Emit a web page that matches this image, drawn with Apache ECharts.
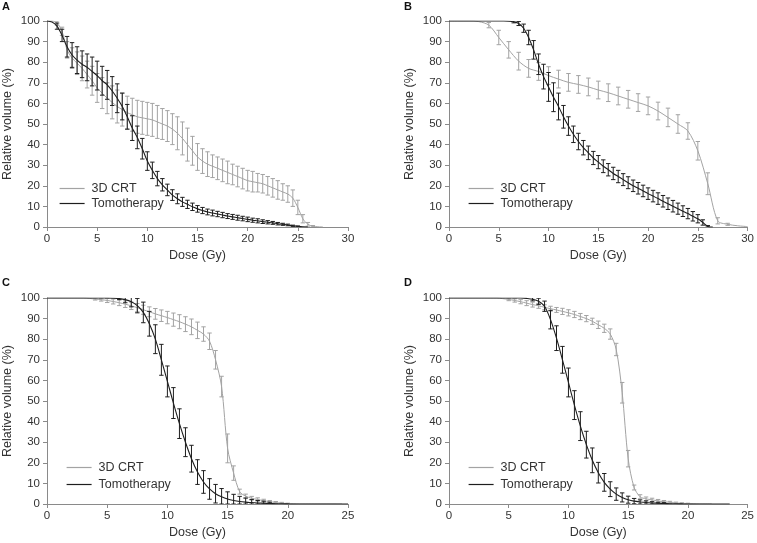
<!DOCTYPE html>
<html>
<head>
<meta charset="utf-8">
<script src="https://cdn.jsdelivr.net/npm/echarts@6/dist/echarts.min.js"></script>
<style>
html,body{margin:0;padding:0;background:#fff;}
#chart{width:757px;height:543px;}
</style>
</head>
<body>
<div id="chart"></div>
<script>
// ---------- Panel A ----------
const doseA = [0,0.5,1,1.5,2,2.5,3,3.5,4,4.5,5,5.5,6,6.5,7,7.5,8,8.5,9,9.5,10,10.5,11,11.5,12,12.5,13,13.5,14,14.5,15,15.5,16,16.5,17,17.5,18,18.5,19,19.5,20,20.5,21,21.5,22,22.5,23,23.5,24,24.5,25,25.5,26,26.5,27,27.5];
const crtA = [100,100,99,95,86,82,79.5,77,74,71,67.5,65,62.5,60.5,58.5,57,55.5,54.5,53.5,53,52.5,52,51,50,49,47.5,45.5,43,40,37,34,32,30.5,29.5,28.5,27.5,26.5,25.5,24.5,23.5,22.5,22,21.5,21,20,19,18,17,16,14,9.5,4,1.3,0.4,0.1,0];
const crtErrA = [0,0,1,2,4,5,5.5,6,6.5,7,7,7.5,7.5,8,8,8,8,8,8,8,8,8,8,7.5,7.5,7.5,8,8,8,7,6.5,6,6,5.5,5.5,5.5,5.5,5,5,5,5,5,4.5,4.5,4.5,4.5,4.5,4,4,4,3.5,2,0.9,0.3,0,0];
const tomoA = [100,99.5,97.5,93,87.5,83.5,81,79,77.5,75.5,73.5,71,69,66,62.5,58.5,53.5,48,43.5,38,32,27.5,23.5,20.5,18,15.5,13.7,12.2,11,9.8,8.8,8,7.3,6.8,6.3,5.8,5.3,4.9,4.5,4.1,3.7,3.3,3,2.6,2.3,2,1.6,1.3,1,0.6,0.3,0.1,0,null,null,null];
const tomoErrA = [0,0,1.5,3,5,6,6.5,6.5,6.5,7,7,7,7,7,7,6.5,6,6,5.5,5,4.5,4,3.5,3,2.8,2.6,2.4,2.2,2,1.8,1.6,1.5,1.4,1.4,1.3,1.3,1.2,1.2,1.2,1.1,1.1,1,1,0.9,0.8,0.7,0.6,0.5,0.4,0.3,0.2,0,0,0,0,0];

// ---------- Panel B ----------
const doseB_crt = [0,1,2,3,4,5,6,7,8,9,10,11,12,13,14,15,16,17,18,19,20,21,22,23,24,25,26,27,28,29,30];
const crtB = [100,100,100,99.7,98,92,86,80.5,77,75.5,73.5,71.8,70.2,69.2,68,66.5,65.2,63.6,62,60.4,58.8,56.3,53.2,50,46.6,37,21,3,1.3,0.6,0.2];
const crtErrB = [0,0,0,0,1.3,3.5,4,4.3,4.3,4.3,4.3,4.3,4.3,4.3,4.3,4.3,4.3,4.3,4.3,4.3,4.3,4.3,4.5,4.5,4,4.5,5.3,1.5,0.5,0,0];
const doseB_tomo = [0,0.5,1,1.5,2,2.5,3,3.5,4,4.5,5,5.5,6,6.5,7,7.5,8,8.5,9,9.5,10,10.5,11,11.5,12,12.5,13,13.5,14,14.5,15,15.5,16,16.5,17,17.5,18,18.5,19,19.5,20,20.5,21,21.5,22,22.5,23,23.5,24,24.5,25,25.5,26,26.5];
const tomoB = [100,100,100,100,100,100,100,100,100,100,100,100,99.9,99.6,98.8,96.5,92,86,79,73,68,63,58.5,53.5,49,45,41.5,38.5,36,33.5,31.5,29.5,27.8,26,24.5,23,21.5,20,18.8,17.5,16.2,15,13.8,12.5,11.3,10.1,8.9,7.7,6.5,5.2,4,2.2,0.3,0];
const tomoErrB = [0,0,0,0,0,0,0,0,0,0,0,0,0,0.5,1,2,3.5,4.5,5,6,7,7,6.5,5.5,4.5,4,4,3.5,3.3,3.2,3.2,3.1,3,3,3,2.9,2.9,2.8,2.8,2.8,2.8,2.8,2.8,2.8,2.8,2.8,2.7,2.6,2.5,2.3,2,1.3,0.4,0];

// ---------- Panel C ----------
const doseC = [0,0.5,1,1.5,2,2.5,3,3.5,4,4.5,5,5.5,6,6.5,7,7.5,8,8.5,9,9.5,10,10.5,11,11.5,12,12.5,13,13.5,14,14.5,15,15.5,16,16.5,17,17.5,18,18.5,19,19.5,20,20.5,21,21.5,22,22.5,23,23.5,24,24.5,25];
const crtC = [100,100,100,100,100,100,100,99.8,99.5,99.2,98.8,98.3,97.7,97,96.2,95.3,94.3,93.3,92.3,91.4,90.5,89.5,88.5,87.3,86,84.3,82.5,79,70,57,27,15,6,3.8,2.8,2.2,1.6,1.1,0.7,0.4,0.2,0.1,0,0,0,0,0,0,0,0,null];
const crtErrC = [0,0,0,0,0,0,0,0,0.5,0.7,1,1.2,1.4,1.6,1.8,2,2.2,2.4,2.6,2.8,3,3.2,3.4,3.6,3.8,4,3.5,4,4.5,5,7,3.5,1.2,1,0.9,0.8,0.7,0.6,0.5,0.4,0.2,0,0,0,0,0,0,0,0,0,0];
const tomoC = [100,100,100,100,100,100,100,100,100,100,100,99.9,99.7,99.2,98.2,96.3,93,87.5,80,70,59.5,49,39,30,22,15.5,10.7,7.3,5,3.5,2.4,1.7,1.2,0.9,0.7,0.5,0.35,0.25,0.15,0.1,0.05,0,0,0,0,0,0,0,0,0,0];
const tomoErrC = [0,0,0,0,0,0,0,0,0,0,0,0,0.5,1.5,2.5,3.5,5,6,7,7.5,7.5,7.5,7.2,7,6.5,6,5.5,5,4.5,4,3.5,3,2.5,2,1.5,1.2,1,0.6,0,0,0,0,0,0,0,0,0,0,0,0,0];

// ---------- Panel D ----------
const doseD = [0,0.5,1,1.5,2,2.5,3,3.5,4,4.5,5,5.5,6,6.5,7,7.5,8,8.5,9,9.5,10,10.5,11,11.5,12,12.5,13,13.5,14,14.5,15,15.5,16,16.5,17,17.5,18,18.5,19,19.5,20,20.5,21,21.5,22,22.5,23,23.5,24];
const crtD = [100,100,100,100,100,100,100,100,100,99.7,99.3,98.8,98.2,97.5,96.8,96.2,95.5,94.8,94.2,93.5,92.8,92,91,90,88.7,87,85.3,82.5,75,54,22,8,3.5,2.5,2,1.5,1.1,0.8,0.5,0.3,0.2,0.1,0,0,0,null,null,null,null];
const crtErrD = [0,0,0,0,0,0,0,0,0,0,0.6,0.8,1,1.2,1.2,1.2,1.2,1.2,1.2,1.5,1.5,1.5,1.5,1.5,1.5,1.8,2,2.5,3,5,4,1.2,1,0.9,0.8,0.7,0.6,0.5,0.4,0.3,0.2,0,0,0,0,0,0,0,0];
const tomoD = [100,100,100,100,100,100,100,100,100,100,100,100,100,99.8,99.4,98.4,96,89.5,80.5,70,59,48,37.8,28.8,21.2,15.2,10.5,7.2,4.8,3.2,2.1,1.4,1,0.7,0.5,0.35,0.25,0.15,0.1,0.05,0,0,0,0,0,0,0,0,null];
const tomoErrD = [0,0,0,0,0,0,0,0,0,0,0,0,0,0,0.8,1.5,2.5,4.5,6,6.5,7,7,7,6.5,6,5,4.3,3.6,3,2.2,1.7,1.3,1,0.8,0.6,0.5,0.4,0,0,0,0,0,0,0,0,0,0,0,0];

const xMaxes = [30, 30, 25, 25];
const yTicks = {min: 0, max: 100, interval: 10};
const xInterval = 5;
const panelLetters = ['A', 'B', 'C', 'D'];
const seriesNames = ['3D CRT', 'Tomotherapy'];
const xName = 'Dose (Gy)';
const yName = 'Relative volume (%)';

const GRAY = '#a3a3a3', BLACK = '#1e1e1e';
const FONT = 'Liberation Sans, Arial, sans-serif';

const grids = [
  {left: 47, top: 21, width: 301, height: 206},
  {left: 449, top: 21, width: 301, height: 206},
  {left: 47, top: 298, width: 301, height: 206},
  {left: 449, top: 298, width: 301, height: 206}
];
const legendPos = [
  {left: 59, top: 182, gap: 2},
  {left: 468, top: 182, gap: 2},
  {left: 66, top: 461, gap: 4},
  {left: 468, top: 461, gap: 4}
];
const letterPos = [[2, 1], [404, 1], [2, 277], [404, 277]];

const panels = [
  {crt: [doseA, crtA, crtErrA], tomo: [doseA, tomoA, tomoErrA]},
  {crt: [doseB_crt, crtB, crtErrB], tomo: [doseB_tomo, tomoB, tomoErrB]},
  {crt: [doseC, crtC, crtErrC], tomo: [doseC, tomoC, tomoErrC]},
  {crt: [doseD, crtD, crtErrD], tomo: [doseD, tomoD, tomoErrD]}
];

const axisCommon = {
  axisLine: {show: true, lineStyle: {color: '#8a8a8a', width: 1}},
  axisTick: {show: true, length: 4, lineStyle: {color: '#8a8a8a'}},
  splitLine: {show: false},
  axisLabel: {color: '#333', fontSize: 11.5, fontFamily: FONT},
  nameTextStyle: {color: '#333', fontSize: 12.5, fontFamily: FONT}
};

function errRender(color) {
  return function (params, api) {
    const x = api.value(0), y = api.value(1), e = api.value(2);
    const top = api.coord([x, y + e]);
    const bot = api.coord([x, Math.max(0, y - e)]);
    const hw = 2.2;
    const st = {stroke: color, lineWidth: 1};
    return {
      type: 'group',
      children: [
        {type: 'line', shape: {x1: top[0], y1: top[1], x2: bot[0], y2: bot[1]}, style: st},
        {type: 'line', shape: {x1: top[0] - hw, y1: top[1], x2: top[0] + hw, y2: top[1]}, style: st},
        {type: 'line', shape: {x1: bot[0] - hw, y1: bot[1], x2: bot[0] + hw, y2: bot[1]}, style: st}
      ]
    };
  };
}

const xAxes = [], yAxes = [], series = [], legends = [], graphics = [];
panels.forEach((p, i) => {
  xAxes.push(Object.assign({}, axisCommon, {
    type: 'value', gridIndex: i, min: 0, max: xMaxes[i], interval: xInterval,
    name: xName, nameLocation: 'middle', nameGap: 22,
    axisLabel: Object.assign({}, axisCommon.axisLabel, {margin: 6})
  }));
  yAxes.push(Object.assign({}, axisCommon, {
    type: 'value', gridIndex: i, min: yTicks.min, max: yTicks.max, interval: yTicks.interval,
    name: yName, nameLocation: 'middle', nameGap: 33,
    axisLabel: Object.assign({}, axisCommon.axisLabel, {margin: 7})
  }));
  const defs = [
    {key: 'crt', name: seriesNames[0], color: GRAY, w: 1, z: 2},
    {key: 'tomo', name: seriesNames[1], color: BLACK, w: 1.1, z: 4}
  ];
  defs.forEach(d => {
    const [dose, vals, errs] = p[d.key];
    series.push({
      type: 'line', name: d.name, xAxisIndex: i, yAxisIndex: i,
      data: dose.map((x, k) => [x, vals[k]]).filter(v => v[1] !== null),
      smooth: 0.3, symbol: 'none', z: d.z,
      lineStyle: {color: d.color, width: d.w},
      itemStyle: {color: d.color},
      animation: false
    });
    series.push({
      type: 'custom', name: d.name + ' err', xAxisIndex: i, yAxisIndex: i,
      data: dose.map((x, k) => [x, vals[k], errs[k]]).filter(v => v[1] !== null && v[2] > 0),
      renderItem: errRender(d.color), z: d.z - 1, clip: true, animation: false,
      silent: true
    });
  });
  legends.push({
    orient: 'vertical', left: legendPos[i].left, top: legendPos[i].top,
    padding: 0, itemGap: legendPos[i].gap, itemWidth: 25, itemHeight: 12,
    data: seriesNames, selectedMode: false,
    itemStyle: {opacity: 0},
    lineStyle: {width: 1.2},
    textStyle: {color: '#333', fontSize: 12.5, fontFamily: FONT, padding: [0, 0, 0, 2]}
  });
  graphics.push({
    type: 'text', left: letterPos[i][0], top: letterPos[i][1],
    style: {text: panelLetters[i], fontSize: 11, fontWeight: 'bold', fill: '#111', fontFamily: FONT}
  });
});

const chart = echarts.init(document.getElementById('chart'), null, {renderer: 'canvas'});
chart.setOption({
  animation: false,
  backgroundColor: '#fff',
  grid: grids,
  xAxis: xAxes,
  yAxis: yAxes,
  legend: legends,
  series: series,
  graphic: graphics
});
</script>
</body>
</html>
